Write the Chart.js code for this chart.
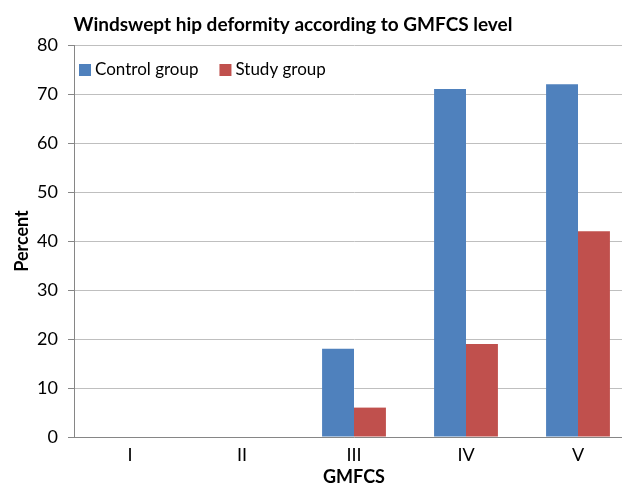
<!DOCTYPE html>
<html><head><meta charset="utf-8">
<script src="https://cdn.jsdelivr.net/npm/chart.js@4"></script>
<style>
html,body{margin:0;padding:0;overflow:hidden;background:#fff;width:622px;height:488px}
#wrap{width:640px;height:488px;position:relative}
</style>
</head><body><div id="wrap"><canvas id="c" width="640" height="488"></canvas></div>
<script>
const chartTitle = 'Windswept hip deformity according to GMFCS level';
const categories = ['I', 'II', 'III', 'IV', 'V'];
const controlGroup = [0, 0, 18, 71, 72];
const studyGroup = [0, 0, 6, 19, 42];
const seriesNames = ['Control group', 'Study group'];
const seriesColors = ['#4F81BD', '#C0504D'];
const yAxisTitle = 'Percent';
const xAxisTitle = 'GMFCS';
const yMin = 0, yMax = 80, yStep = 10;

const FONT = 'Lato, "Open Sans", sans-serif';

const overlay = {
  id: 'overlay',
  afterDraw(chart) {
    const ctx = chart.ctx;
    ctx.save();
    // title
    ctx.fillStyle = '#000';
    ctx.font = 'bold 19px ' + FONT;
    ctx.textAlign = 'center';
    ctx.textBaseline = 'middle';
    ctx.fillText(chartTitle, 293, 25);
    // legend inside plot area
    ctx.font = '17px ' + FONT;
    ctx.textAlign = 'left';
    let x = chart.chartArea.left + 5;
    const y = chart.chartArea.top + 25;
    chart.data.datasets.forEach(ds => {
      ctx.fillStyle = ds.backgroundColor;
      ctx.fillRect(x, y - 6, 12, 12);
      ctx.fillStyle = '#000';
      ctx.fillText(ds.label, x + 16, y);
      x += 16 + ctx.measureText(ds.label).width + 21;
    });
    ctx.restore();
  }
};

new Chart(document.getElementById('c'), {
  type: 'bar',
  data: {
    labels: categories,
    datasets: [
      { label: seriesNames[0], data: controlGroup, backgroundColor: seriesColors[0] },
      { label: seriesNames[1], data: studyGroup, backgroundColor: seriesColors[1] }
    ]
  },
  options: {
    responsive: false,
    devicePixelRatio: 1,
    animation: false,
    layout: { padding: { top: 45, right: 6, left: 0, bottom: 0 } },
    datasets: { bar: { categoryPercentage: 0.57, barPercentage: 1 } },
    plugins: { legend: { display: false }, title: { display: false }, tooltip: { enabled: false } },
    scales: {
      x: {
        grid: { display: false, drawTicks: false },
        border: { display: true, color: '#868686', width: 1 },
        ticks: { color: '#000', font: { family: FONT, size: 18 }, padding: 7 },
        title: { display: true, text: xAxisTitle, color: '#000', font: { family: FONT, size: 18, weight: 'bold' }, padding: 0 },
        afterFit(s) { s.height = 51; }
      },
      y: {
        min: yMin, max: yMax,
        grid: { color: '#BFBFBF', tickLength: 6, tickColor: '#868686' },
        border: { display: true, color: '#868686', width: 1 },
        ticks: { stepSize: yStep, color: '#000', font: { family: FONT, size: 18 }, padding: 10 },
        title: { display: true, text: yAxisTitle, color: '#000', font: { family: FONT, size: 18, weight: 'bold' }, padding: { top: 11, bottom: 0 } },
        afterFit(s) { s.width = 74; }
      }
    }
  },
  plugins: [overlay]
});
</script>
</body></html>
